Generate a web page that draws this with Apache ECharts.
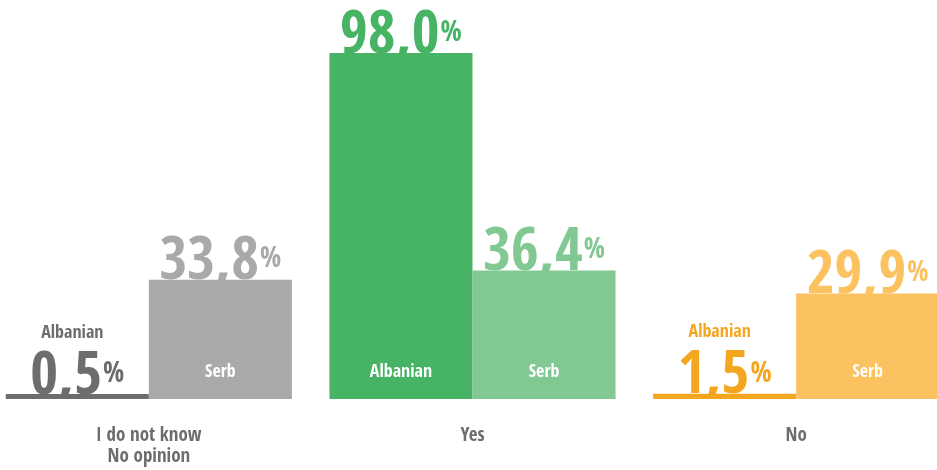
<!DOCTYPE html>
<html>
<head>
<meta charset="utf-8">
<script src="https://cdn.jsdelivr.net/npm/echarts@6/dist/echarts.min.js"></script>
<style>html,body{margin:0;padding:0;background:#fff}#c{width:937px;height:470px}</style>
</head>
<body>
<div id="c"></div>
<script>
const categories = ['I do not know\nNo opinion', 'Yes', 'No'];
const albanian = [0.5, 98.0, 1.5];
const serb = [33.8, 36.4, 29.9];
const groupNames = ['Albanian', 'Serb'];
const albanianColors = ['#6d6d6d', '#47b364', '#f5a61f'];
const serbColors = ['#a9a9a8', '#82c893', '#fbc25f'];

const FONT = '"Open Sans Condensed", "Roboto Condensed", sans-serif';
const fmt = v => v.toFixed(1).replace('.', ',');
const SMALL = 10;

function valueRich(color) {
  return {
    n: { fontFamily: FONT, fontWeight: 'bold', fontSize: 60, lineHeight: 60, color: color },
    p: { fontFamily: FONT, fontWeight: 'bold', fontSize: 28, lineHeight: 28, color: color, padding: [0, 0, 7, 1] },
    a: { fontFamily: FONT, fontWeight: 'bold', fontSize: 18, lineHeight: 30, color: color, padding: [0, 10, 0, 0] }
  };
}

function labelData(values, colors, name, showName) {
  return values.map((v, i) => {
    const small = v < SMALL;
    const txt = (showName && small ? '{a|' + name + '}\n' : '') + '{n|' + fmt(v) + '}{p|%}';
    return {
      value: v,
      itemStyle: { color: 'rgba(0,0,0,0)' },
      label: { show: true, position: 'top', distance: 0, offset: [0, 14], formatter: txt, rich: valueRich(colors[i]) }
    };
  });
}

function innerLabelData(values, colors, name) {
  return values.map((v, i) => ({
    value: v,
    itemStyle: { color: colors[i] },
    label: {
      show: v >= SMALL, position: 'insideBottom', distance: 18, formatter: name,
      color: '#ffffff', fontFamily: FONT, fontWeight: 'bold', fontSize: 18
    }
  }));
}

const chart = echarts.init(document.getElementById('c'), null, { renderer: 'canvas' });
const axisCommon = {
  type: 'category', data: categories,
  axisTick: { show: false }, splitLine: { show: false }
};
chart.setOption({
  animation: false,
  grid: { left: -13, right: -21, top: 46, bottom: 71, containLabel: false, outerBoundsMode: 'none' },
  xAxis: [
    Object.assign({}, axisCommon, {
      z: 2,
      axisLine: { show: true, lineStyle: { color: '#ffffff', width: 11 } },
      axisLabel: { margin: 27, color: '#6d6d6d', fontFamily: FONT, fontWeight: 'bold', fontSize: 19, lineHeight: 21 }
    }),
    Object.assign({}, axisCommon, { show: false, axisLine: { show: false } })
  ],
  yAxis: { type: 'value', min: 0, max: 100, show: false },
  series: [
    { name: groupNames[0] + ' label', type: 'bar', xAxisIndex: 1, z: 1, barGap: 0, barCategoryGap: '11.6%', barMinHeight: 5,
      data: labelData(albanian, albanianColors, groupNames[0], true) },
    { name: groupNames[1] + ' label', type: 'bar', xAxisIndex: 1, z: 1, barGap: 0, barCategoryGap: '11.6%',
      data: labelData(serb, serbColors, groupNames[1], false) },
    { name: groupNames[0], type: 'bar', xAxisIndex: 0, z: 3, barGap: 0, barCategoryGap: '11.6%', barMinHeight: 5,
      data: innerLabelData(albanian, albanianColors, groupNames[0]) },
    { name: groupNames[1], type: 'bar', xAxisIndex: 0, z: 3, barGap: 0, barCategoryGap: '11.6%',
      data: innerLabelData(serb, serbColors, groupNames[1]) }
  ]
});
</script>
</body>
</html>
